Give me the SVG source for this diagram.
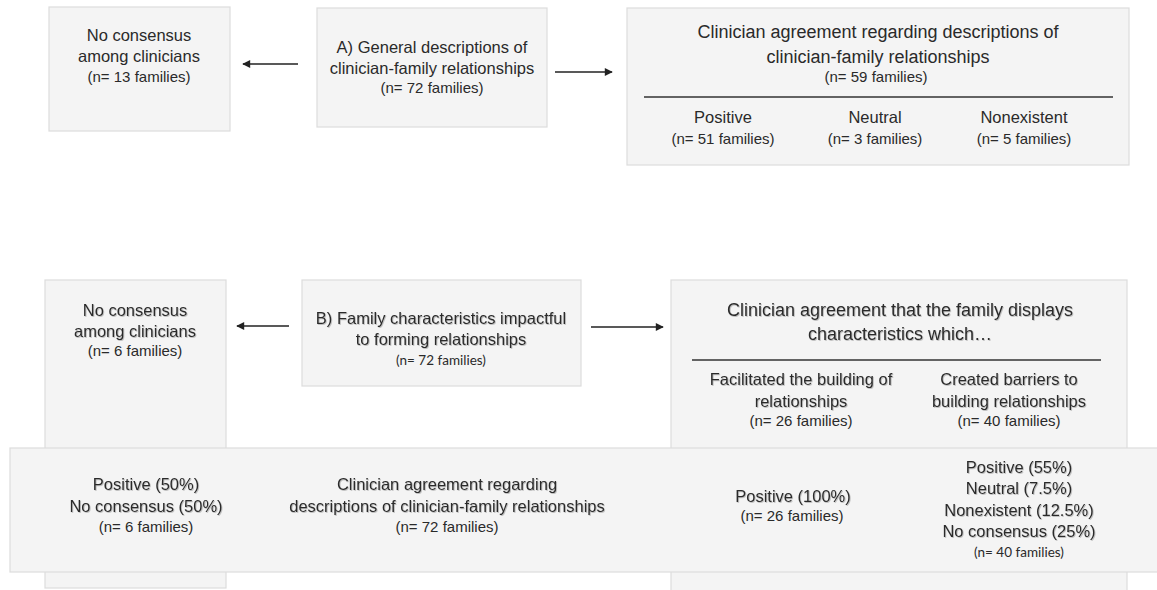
<svg xmlns="http://www.w3.org/2000/svg" width="1157" height="590" viewBox="0 0 1157 590">
<defs>
<style>
.box{fill:#f4f4f4;stroke:#dcdcdc;stroke-width:1.2}
.t{font-family:"Liberation Sans",Arial,sans-serif;font-size:16.5px;fill:#2a2a2a;text-anchor:middle}
.tt{font-family:"Liberation Sans",Arial,sans-serif;font-size:18px;fill:#2a2a2a;text-anchor:middle}
.n{font-family:"Liberation Sans",Arial,sans-serif;font-size:15px;fill:#2a2a2a;text-anchor:middle}
.c{font-family:Lato,"Open Sans",sans-serif;font-size:13.5px;fill:#2a2a2a;text-anchor:middle}
.sh{filter:url(#shadow)}
.sep{stroke:#333;stroke-width:1.6}
.arr{stroke:#222;stroke-width:1.3;fill:none;marker-end:url(#ah)}
</style>
<filter id="shadow" x="-10%" y="-30%" width="120%" height="160%">
<feDropShadow dx="0.8" dy="0.8" stdDeviation="0.7" flood-color="#888" flood-opacity="0.6"/>
</filter>
<marker id="ah" viewBox="0 0 10 10" refX="9" refY="5" markerWidth="9" markerHeight="8" markerUnits="userSpaceOnUse" orient="auto">
<path d="M0,0 L10,5 L0,10 z" fill="#222"/>
</marker>
</defs>
<rect width="1157" height="590" fill="#ffffff"/>

<g id="nocons-a">
<rect class="box" x="49" y="7" width="181" height="124"/>
<text class="t" x="139" y="41">No consensus</text>
<text class="t" x="139" y="62">among clinicians</text>
<text class="n" x="139" y="82">(n= 13 families)</text>
</g>

<g id="general-a">
<rect class="box" x="317" y="8" width="230" height="119"/>
<text class="t" x="432" y="53">A) General descriptions of</text>
<text class="t" x="432" y="74">clinician-family relationships</text>
<text class="n" x="432" y="93">(n= 72 families)</text>
</g>

<g id="agree-a">
<rect class="box" x="627" y="8" width="502" height="157"/>
<text class="tt" x="878" y="38">Clinician agreement regarding descriptions of</text>
<text class="tt" x="878" y="63">clinician-family relationships</text>
<text class="n" x="876" y="82">(n= 59 families)</text>
<line class="sep" x1="644" y1="97" x2="1113" y2="97"/>
<text class="t" x="723" y="123">Positive</text>
<text class="n" x="723" y="144">(n= 51 families)</text>
<text class="t" x="875" y="123">Neutral</text>
<text class="n" x="875" y="144">(n= 3 families)</text>
<text class="t" x="1024" y="123">Nonexistent</text>
<text class="n" x="1024" y="144">(n= 5 families)</text>
</g>

<g id="nocons-b">
<rect class="box" x="45" y="280" width="181" height="308"/>
<g class="sh">
<text class="t" x="135" y="316">No consensus</text>
<text class="t" x="135" y="337">among clinicians</text>
</g>
<text class="n" x="135" y="356">(n= 6 families)</text>
</g>

<g id="family-b">
<rect class="box" x="302" y="280" width="279" height="106"/>
<g class="sh">
<text class="t" x="441" y="324">B) Family characteristics impactful</text>
<text class="t" x="441" y="345">to forming relationships</text>
</g>
<text class="c" x="441" y="365">(n= 72 families)</text>
</g>

<g id="agree-b">
<rect class="box" x="671" y="280" width="456" height="314"/>
<g class="sh">
<text class="tt" x="900" y="316">Clinician agreement that the family displays</text>
<text class="tt" x="900" y="340">characteristics which…</text>
<text class="t" x="801" y="385">Facilitated the building of</text>
<text class="t" x="801" y="407">relationships</text>
<text class="t" x="1009" y="385">Created barriers to</text>
<text class="t" x="1009" y="407">building relationships</text>
</g>
<line class="sep" x1="692" y1="360" x2="1101" y2="360"/>
<text class="n" x="801" y="426">(n= 26 families)</text>
<text class="n" x="1009" y="426">(n= 40 families)</text>
</g>

<g id="outcome-b">
<rect class="box" x="10" y="448" width="1152" height="124"/>
<g class="sh">
<text class="t" x="146" y="490">Positive (50%)</text>
<text class="t" x="146" y="512">No consensus (50%)</text>
<text class="t" x="447" y="490">Clinician agreement regarding</text>
<text class="t" x="447" y="512">descriptions of clinician-family relationships</text>
<text class="t" x="793" y="502">Positive (100%)</text>
<text class="t" x="1019" y="473">Positive (55%)</text>
<text class="t" x="1019" y="494">Neutral (7.5%)</text>
<text class="t" x="1019" y="516">Nonexistent (12.5%)</text>
<text class="t" x="1019" y="537">No consensus (25%)</text>
</g>
<text class="n" x="146" y="532">(n= 6 families)</text>
<text class="n" x="447" y="532">(n= 72 families)</text>
<text class="n" x="792" y="521">(n= 26 families)</text>
<text class="c" x="1019" y="557">(n= 40 families)</text>
</g>

<g id="connectors">
<line class="arr" x1="298" y1="64" x2="243" y2="64"/>
<line class="arr" x1="555" y1="72" x2="612" y2="72"/>
<line class="arr" x1="289" y1="326" x2="237" y2="326"/>
<line class="arr" x1="591" y1="327" x2="663" y2="327"/>
</g>
</svg>
